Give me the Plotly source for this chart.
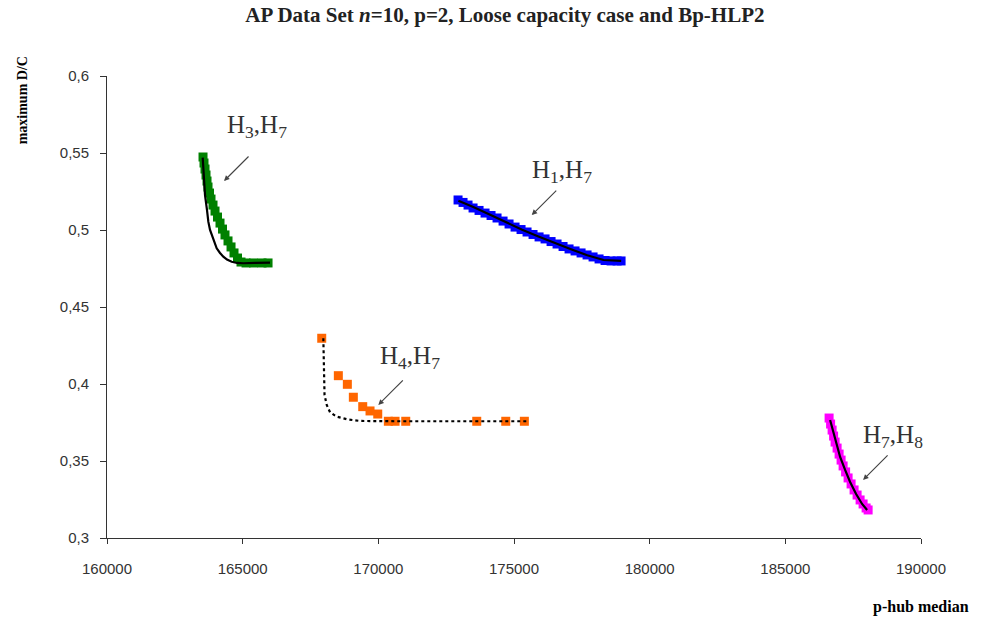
import plotly.graph_objects as go

# ---- Pareto fronts (p-hub median cost vs. maximum D/C) ----
# H3,H7
h3h7_x = [163539, 163575, 163612, 163649, 163686, 163723, 163778, 163833, 163907, 163981,
          164073, 164165, 164257, 164349, 164460, 164571, 164681, 164810, 164939, 165124,
          165400, 165713, 165935]
h3h7_y = [0.5474, 0.5435, 0.5396, 0.5357, 0.5318, 0.5279, 0.5240, 0.5201, 0.5162, 0.5123,
          0.5084, 0.5045, 0.5006, 0.4968, 0.4929, 0.4890, 0.4851, 0.4818, 0.4792, 0.4786,
          0.4786, 0.4786, 0.4786]
h3h7_fit_x = [163527, 163575, 163612, 163686, 163734, 163797, 163859, 163944, 164043, 164165,
              164287, 164423, 164596, 164792, 165024, 165455, 166008]
h3h7_fit_y = [0.5470, 0.5357, 0.5227, 0.5129, 0.5054, 0.5000, 0.4968, 0.4922, 0.4881, 0.4851,
              0.4827, 0.4808, 0.4794, 0.4786, 0.4784, 0.4786, 0.4788]

# H1,H7
h1h7_x = [172938, 173122, 173306, 173491, 173712, 173933, 174154, 174375, 174597, 174818,
          175039, 175260, 175481, 175702, 175924, 176145, 176366, 176587, 176808, 177029,
          177250, 177472, 177693, 177914, 178135, 178356, 178578, 178799, 178946]
h1h7_y = [0.5195, 0.5179, 0.5162, 0.5143, 0.5127, 0.5110, 0.5094, 0.5078, 0.5058, 0.5039,
          0.5019, 0.5003, 0.4987, 0.4971, 0.4955, 0.4942, 0.4925, 0.4909, 0.4893, 0.4877,
          0.4864, 0.4851, 0.4838, 0.4825, 0.4812, 0.4802, 0.4799, 0.4799, 0.4799]
h1h7_fit_x = [172950, 173500, 174100, 174700, 175300, 175900, 176500, 177100, 177700, 178300, 178950]
h1h7_fit_y = [0.5190, 0.5150, 0.5100, 0.5050, 0.5002, 0.4958, 0.4915, 0.4875, 0.4836, 0.4805, 0.4800]

# H4,H7
h4h7_x = [167914, 168526, 168858, 169079, 169425, 169694, 169978, 170369, 170616, 171010,
          173627, 174696, 175382]
h4h7_y = [0.4297, 0.4054, 0.3998, 0.3914, 0.3853, 0.3825, 0.3805, 0.3758, 0.3758, 0.3758,
          0.3758, 0.3758, 0.3758]
h4h7_fit_x = [167973, 167980, 167999, 168017, 168098, 168220, 168467, 168835, 169326, 169941,
              170800, 172643, 175529]
h4h7_fit_y = [0.4297, 0.4156, 0.4026, 0.3929, 0.3864, 0.3816, 0.3788, 0.3771, 0.3760, 0.3758,
              0.3758, 0.3758, 0.3758]

# H7,H8
h7h8_x = [186613, 186668, 186724, 186779, 186834, 186908, 186982, 187055, 187129, 187221,
          187313, 187424, 187534, 187645, 187756, 187866, 187977, 188051]
h7h8_y = [0.3779, 0.3740, 0.3701, 0.3662, 0.3623, 0.3584, 0.3545, 0.3506, 0.3468, 0.3429,
          0.3390, 0.3351, 0.3312, 0.3279, 0.3247, 0.3221, 0.3195, 0.3182]
h7h8_fit_x = [186650, 186761, 186871, 187019, 187203, 187387, 187608, 187829, 188014]
h7h8_fit_y = [0.3766, 0.3688, 0.3617, 0.3526, 0.3442, 0.3364, 0.3286, 0.3221, 0.3182]

# Axis ticks
x_ticks = [160000, 165000, 170000, 175000, 180000, 185000, 190000]
x_tick_text = ["160000", "165000", "170000", "175000", "180000", "185000", "190000"]
y_ticks = [0.3, 0.35, 0.4, 0.45, 0.5, 0.55, 0.6]
y_tick_text = ["0,3", "0,35", "0,4", "0,45", "0,5", "0,55", "0,6"]

# Labels: (text, tip x, tip y, label x, label y)
labels = [
    ("H<sub>3</sub>,H<sub>7</sub>", 164313, 0.5318, 165529, 0.5669),
    ("H<sub>1</sub>,H<sub>7</sub>", 175654, 0.5097, 176771, 0.5377),
    ("H<sub>4</sub>,H<sub>7</sub>", 170000, 0.3864, 171169, 0.4175),
    ("H<sub>7</sub>,H<sub>8</sub>", 187866, 0.3377, 188972, 0.3656),
]

fig = go.Figure()

series = [
    (h3h7_x, h3h7_y, h3h7_fit_x, h3h7_fit_y, "#008000", "solid"),
    (h1h7_x, h1h7_y, h1h7_fit_x, h1h7_fit_y, "#0000FF", "solid"),
    (h4h7_x, h4h7_y, h4h7_fit_x, h4h7_fit_y, "#FF6600", "dot"),
    (h7h8_x, h7h8_y, h7h8_fit_x, h7h8_fit_y, "#FF00FF", "solid"),
]
for sx, sy, fx, fy, col, dash in series:
    fig.add_trace(go.Scatter(x=sx, y=sy, mode="markers",
                             marker=dict(symbol="square", size=9, color=col, line=dict(width=0)),
                             showlegend=False, hoverinfo="skip"))
for sx, sy, fx, fy, col, dash in series:
    fig.add_trace(go.Scatter(x=fx, y=fy, mode="lines",
                             line=dict(color="black", width=2.2, dash=dash),
                             showlegend=False, hoverinfo="skip"))

for text, tx, ty, lx, ly in labels:
    # arrow
    fig.add_annotation(x=tx, y=ty, xref="x", yref="y", text="", showarrow=True,
                       ax=26, ay=-26, arrowhead=2, arrowsize=0.9, arrowwidth=1.2,
                       arrowcolor="#444444")
    # label
    fig.add_annotation(x=lx, y=ly, xref="x", yref="y", text=text, showarrow=False,
                       xanchor="center", yanchor="middle",
                       font=dict(family="Liberation Serif", size=25, color="#333333"))

fig.add_annotation(x=-0.104, y=0.948, xref="paper", yref="paper", text="<b>maximum D/C</b>",
                   textangle=-90, showarrow=False, xanchor="center", yanchor="middle",
                   font=dict(family="Liberation Serif", size=14, color="black"))
fig.add_annotation(x=1.0, y=-0.149, xref="paper", yref="paper", text="<b>p-hub median</b>",
                   showarrow=False, xanchor="center", yanchor="middle",
                   font=dict(family="Liberation Serif", size=16, color="black"))

fig.update_layout(
    width=992, height=627,
    margin=dict(l=107, r=71, t=76, b=89),
    paper_bgcolor="white", plot_bgcolor="white",
    title=dict(text="<b>AP Data Set <i>n</i>=10, p=2, Loose capacity case and Bp-HLP2</b>",
               x=0.509, xanchor="center", y=0.976, yanchor="middle",
               font=dict(family="Liberation Serif", size=21, color="#222222")),
    xaxis=dict(range=[160000, 190000], tickvals=x_ticks, ticktext=x_tick_text,
               showgrid=False, zeroline=False, showline=True, linecolor="#333333", linewidth=1,
               ticks="outside", ticklen=5, tickcolor="#333333", ticklabelstandoff=12,
               tickfont=dict(family="Liberation Sans", size=15, color="#333333")),
    yaxis=dict(range=[0.3, 0.6], tickvals=y_ticks, ticktext=y_tick_text,
               showgrid=False, zeroline=False, showline=True, linecolor="#333333", linewidth=1,
               ticks="outside", ticklen=6, tickcolor="#333333", ticklabelstandoff=8,
               tickfont=dict(family="Liberation Sans", size=15, color="#333333")),
)

fig.write_html("out.html")
